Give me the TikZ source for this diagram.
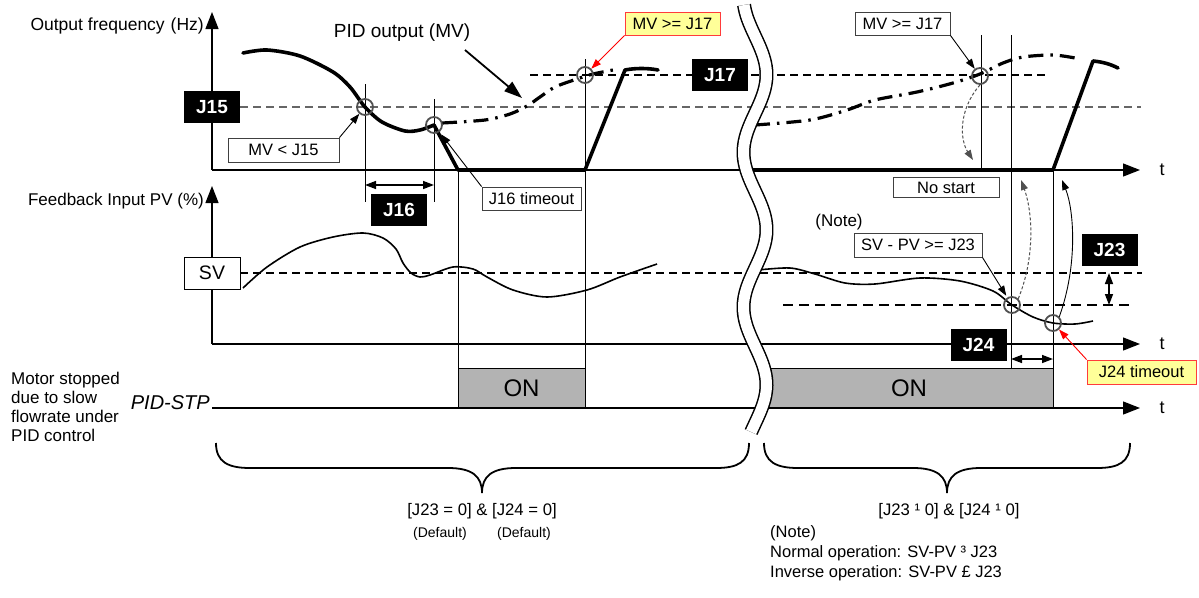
\documentclass[tikz,border=0pt]{standalone}
\usepackage{fontspec}
\setmainfont{Liberation Sans}
\usetikzlibrary{arrows.meta,calc}
\definecolor{ylw}{HTML}{FFFF99}
\definecolor{redb}{HTML}{FF3B3B}
\definecolor{onfill}{HTML}{B3B3B3}
\definecolor{circgray}{HTML}{505050}
\tikzset{
 axis/.style={line width=1.3pt, -{Triangle[length=17pt,width=13pt]}},
 vline/.style={line width=0.9pt},
 mvline/.style={line width=3.6pt, line join=round, line cap=round},
 dashdotline/.style={line width=3.2pt, dash pattern=on 15pt off 7pt on 2.5pt off 7pt},
 blk/.style={fill=black, text=white, font=\fontsize{19}{21}\selectfont\bfseries, minimum width=56pt, minimum height=32pt, inner sep=0pt},
 lbl/.style={draw=black!75, line width=0.9pt, fill=white, font=\fontsize{16.5}{18}\selectfont, inner sep=0pt},
 ylbl/.style={lbl, draw=redb, fill=ylw},
 circ/.style={circle, draw=circgray, line width=1.8pt, minimum size=16pt, inner sep=0pt},
 txt/.style={font=\fontsize{17}{19}\selectfont, inner sep=0pt},
 leader/.style={line width=0.9pt, -{Triangle[length=10pt,width=7pt]}},
 redleader/.style={leader, draw=red, -{Triangle[length=10pt,width=7pt,fill=red]}},
 dimarrow/.style={line width=1.5pt, {Triangle[length=11pt,width=8pt]}-{Triangle[length=11pt,width=8pt]}},
 grayleader/.style={line width=1pt, draw=circgray, dash pattern=on 3pt off 2pt, -{Triangle[length=10pt,width=7pt,fill=circgray]}},
 onbox/.style={draw=black, line width=0.9pt, fill=onfill},
 ontext/.style={font=\fontsize{24}{26}\selectfont, inner sep=0pt},
 gdash/.style={line width=1.3pt, draw=black!60, dash pattern=on 8pt off 5pt},
 kdash/.style={line width=1.3pt, draw=black, dash pattern=on 8pt off 5pt},
 kdashthick/.style={line width=2.4pt, draw=black, dash pattern=on 10pt off 6pt},
 brace/.style={line width=1.8pt},
}
\begin{document}
\begin{tikzpicture}[x=1pt,y=-1pt]
\useasboundingbox (0,0) rectangle (1199,597);
\fill[white] (0,0) rectangle (1199,597);

% ---------- coordinates ----------
\coordinate (o1) at (212,170);
\coordinate (o2) at (212,344);
\coordinate (o3) at (212,408);
\coordinate (y1) at (212,12);
\coordinate (y2) at (212,186);
\coordinate (x1) at (1140,170);
\coordinate (x2) at (1140,344);
\coordinate (x3) at (1140,408);

% ---------- dashed reference lines ----------
\draw[gdash] (240,107) -- (1141,107);
\draw[kdash] (530,75) -- (1048,75);
\draw[kdash, line width=1.1pt] (240,273) -- (1142,273);
\draw[kdashthick] (783,305) -- (1133,305);

% ---------- thin vertical lines ----------
\draw[vline] (365,84) -- (365,202);
\draw[vline] (434,99) -- (434,202);
\draw[vline] (458,170) -- (458,408);
\draw[vline] (585,59) -- (585,408);
\draw[vline] (981,35) -- (981,170);
\draw[vline] (1011,35) -- (1011,368);
\draw[vline] (1053,170) -- (1053,408);

% ---------- ON boxes ----------
\draw[onbox] (458,368) rectangle (585,408);
\node[ontext] (on1) at (521.5,388) {ON};
\draw[onbox] (765,368) rectangle (1053,408);
\node[ontext] (on2) at (909,388) {ON};

% ---------- axes ----------
\draw[axis] (o1) -- (y1);
\draw[axis] (o1) -- (x1);
\draw[axis] (o2) -- (y2);
\draw[axis] (o2) -- (x2);
\draw[axis] (o3) -- (x3);
\node[txt, font=\fontsize{18}{20}\selectfont] (t1) at (1162,170) {t};
\node[txt, font=\fontsize{18}{20}\selectfont] (t2) at (1162,344) {t};
\node[txt, font=\fontsize{18}{20}\selectfont] (t3) at (1162,408) {t};

% ---------- MV (solid) ----------
\draw[mvline] plot[smooth] coordinates {(243,53) (267,50) (300,56) (333,72) (350,87) (365,107) (382,122) (405,131) (420,130) (434,125)}
  -- (458,170) -- (585,170) -- (625,70) .. controls (635,68) and (648,68) .. (658,70);
\draw[mvline] (745,170) -- (1053,170) -- (1093,61) .. controls (1103,62) and (1110,64) .. (1118,68);

% ---------- MV (dash-dot) ----------
\draw[dashdotline] plot[smooth] coordinates {(442,123) (485,120) (510,114) (527,106) (540,97) (555,87) (577,79) (593,74) (613,70)};
\draw[dashdotline] plot[smooth] coordinates {(755,125) (810,120) (847,110) (875,100) (917,92) (953,83) (980,74) (1003,63) (1023,57) (1053,55) (1075,58)};

% ---------- PV curves ----------
\draw[line width=1.6pt] plot[smooth] coordinates {(243,288) (267,267) (300,247) (333,237) (363,233) (383,238) (396,249) (403,263) (411,273) (420,277) (430,275) (453,267) (473,269) (487,277) (513,290) (547,297) (587,290) (620,277) (657,264)};
\draw[line width=1.6pt] plot[smooth] coordinates {(758,270) (790,268) (815,274) (845,283) (875,284) (920,278) (960,281) (993,291) (1012,305) (1033,317) (1053,323) (1075,324) (1093,321)};

% ---------- circles ----------
\node[circ] (c1) at (365,107) {};
\node[circ] (c2) at (434,125) {};
\node[circ] (c3) at (585,75) {};
\node[circ] (c4) at (980,76) {};
\node[circ] (c5) at (1012,305) {};
\node[circ] (c6) at (1053,323) {};

% ---------- black labels ----------
\node[blk] (j15) at (212,107) {J15};
\node[blk] (j16) at (399,209.5) {J16};
\node[blk] (j17) at (720,75) {J17};
\node[blk] (j23) at (1109.5,250) {J23};
\node[blk] (j24) at (978.5,344.5) {J24};

% ---------- dimension arrows ----------
\draw[dimarrow] (365,185) -- (434,185);
\draw[dimarrow] (1011,359) -- (1053,359);
\draw[dimarrow] (1109,273) -- (1109,305);

% ---------- boxed labels ----------
\node[lbl, minimum width=111pt, minimum height=24pt] (mvlt) at (283.5,150) {MV < J15};
\node[lbl, minimum width=99pt, minimum height=23pt] (j16to) at (531.5,198.5) {J16 timeout};
\node[ylbl, minimum width=95pt, minimum height=23pt] (mvge1) at (672.5,23.5) {MV >= J17};
\node[lbl, minimum width=95pt, minimum height=23pt] (mvge2) at (902.5,23.5) {MV >= J17};
\node[lbl, minimum width=106pt, minimum height=20pt] (nostart) at (946,187.5) {No start};
\node[lbl, minimum width=128pt, minimum height=24pt] (svpv) at (918,245) {SV - PV >= J23};
\node[ylbl, minimum width=109pt, minimum height=24pt] (j24to) at (1141.5,372) {J24 timeout};
\node[lbl, draw=black, minimum width=56pt, minimum height=32pt, font=\fontsize{19.5}{21}\selectfont] (sv) at (212,273) {SV};

% ---------- leaders ----------
\draw[leader] (mvlt.north east) -- (c1);
\draw[leader, shorten >=3pt] (j16to.north west) -- (c2);
\draw[redleader] (mvge1.south west) -- (c3);
\draw[leader] (mvge2.south east) -- (c4);
\draw[leader, shorten >=2pt] (svpv.south east) -- (c5);
\draw[redleader] (j24to.north west) -- (c6);

\coordinate (nsTip) at (973,160);
\coordinate (upTipA) at (1021,180);
\coordinate (upTipB) at (1062,180);
\draw[grayleader] (c4.south) .. controls (958,110) and (960,140) .. (nsTip);
\draw[grayleader] (c5.north east) .. controls (1036,255) and (1032,210) .. (upTipA);
\draw[leader] (c6.north east) .. controls (1078,265) and (1074,210) .. (upTipB);

% ---------- PID output label ----------
\node[txt, font=\fontsize{19}{21}\selectfont] (pidout) at (402,33) {PID output (MV)};
\coordinate (pidtail) at (465,50);
\coordinate (pidtip) at (522,98);
\draw[line width=1.8pt, -{Triangle[length=18pt,width=12pt]}] (pidtail) -- (pidtip);

% ---------- axis labels ----------
\node[txt, anchor=east, font=\fontsize{17.5}{19}\selectfont] (ylab1) at (204,26) {Output frequency\hspace{6pt}(Hz)};
\node[txt, anchor=east] (ylab2) at (204,201) {Feedback Input PV (\%)};
\node[txt, anchor=east, font=\fontsize{20}{22}\selectfont\itshape] (pidstp) at (210,403) {PID-STP};
\node[txt, anchor=west, align=left, font=\fontsize{17}{19}\selectfont] (motor) at (11,406.5) {Motor stopped\\due to slow\\flowrate under\\PID control};
\node[txt] (note1) at (839,222) {(Note)};

% ---------- break ----------
\draw[line width=1.5pt, double=white, double distance=11pt] plot[variable=\t, domain=5:432, samples=120, smooth] ({755+11.5*sin(2.32258*(\t-36))}, \t);

% ---------- braces ----------
\draw[brace] (216,443) .. controls (216,462) and (228,468) .. (250,468) -- (448,468)
  .. controls (472,468) and (482,476) .. (482,493)
  .. controls (482,476) and (492,468) .. (516,468) -- (716,468)
  .. controls (738,468) and (749,462) .. (749,443);
\draw[brace] (764,443) .. controls (764,462) and (776,468) .. (798,468) -- (913,468)
  .. controls (937,468) and (947,476) .. (947,493)
  .. controls (947,476) and (957,468) .. (981,468) -- (1097,468)
  .. controls (1119,468) and (1130,462) .. (1130,443);

\node[txt, font=\fontsize{16.7}{19}\selectfont] (cond1) at (482,511) {[J23 = 0] \& [J24 = 0]};
\node[txt, font=\fontsize{14}{16}\selectfont] (def1) at (440,534) {(Default)};
\node[txt, font=\fontsize{14}{16}\selectfont] (def2) at (524,534) {(Default)};
\node[txt, font=\fontsize{16.7}{19}\selectfont] (cond2) at (949,511) {[J23 ¹ 0] \& [J24 ¹ 0]};
\node[txt, anchor=west, align=left, font=\fontsize{16.5}{20}\selectfont] (note2) at (770,553) {(Note)\\Normal operation: SV-PV ³ J23\\Inverse operation: SV-PV £ J23};
\end{tikzpicture}
\end{document}
